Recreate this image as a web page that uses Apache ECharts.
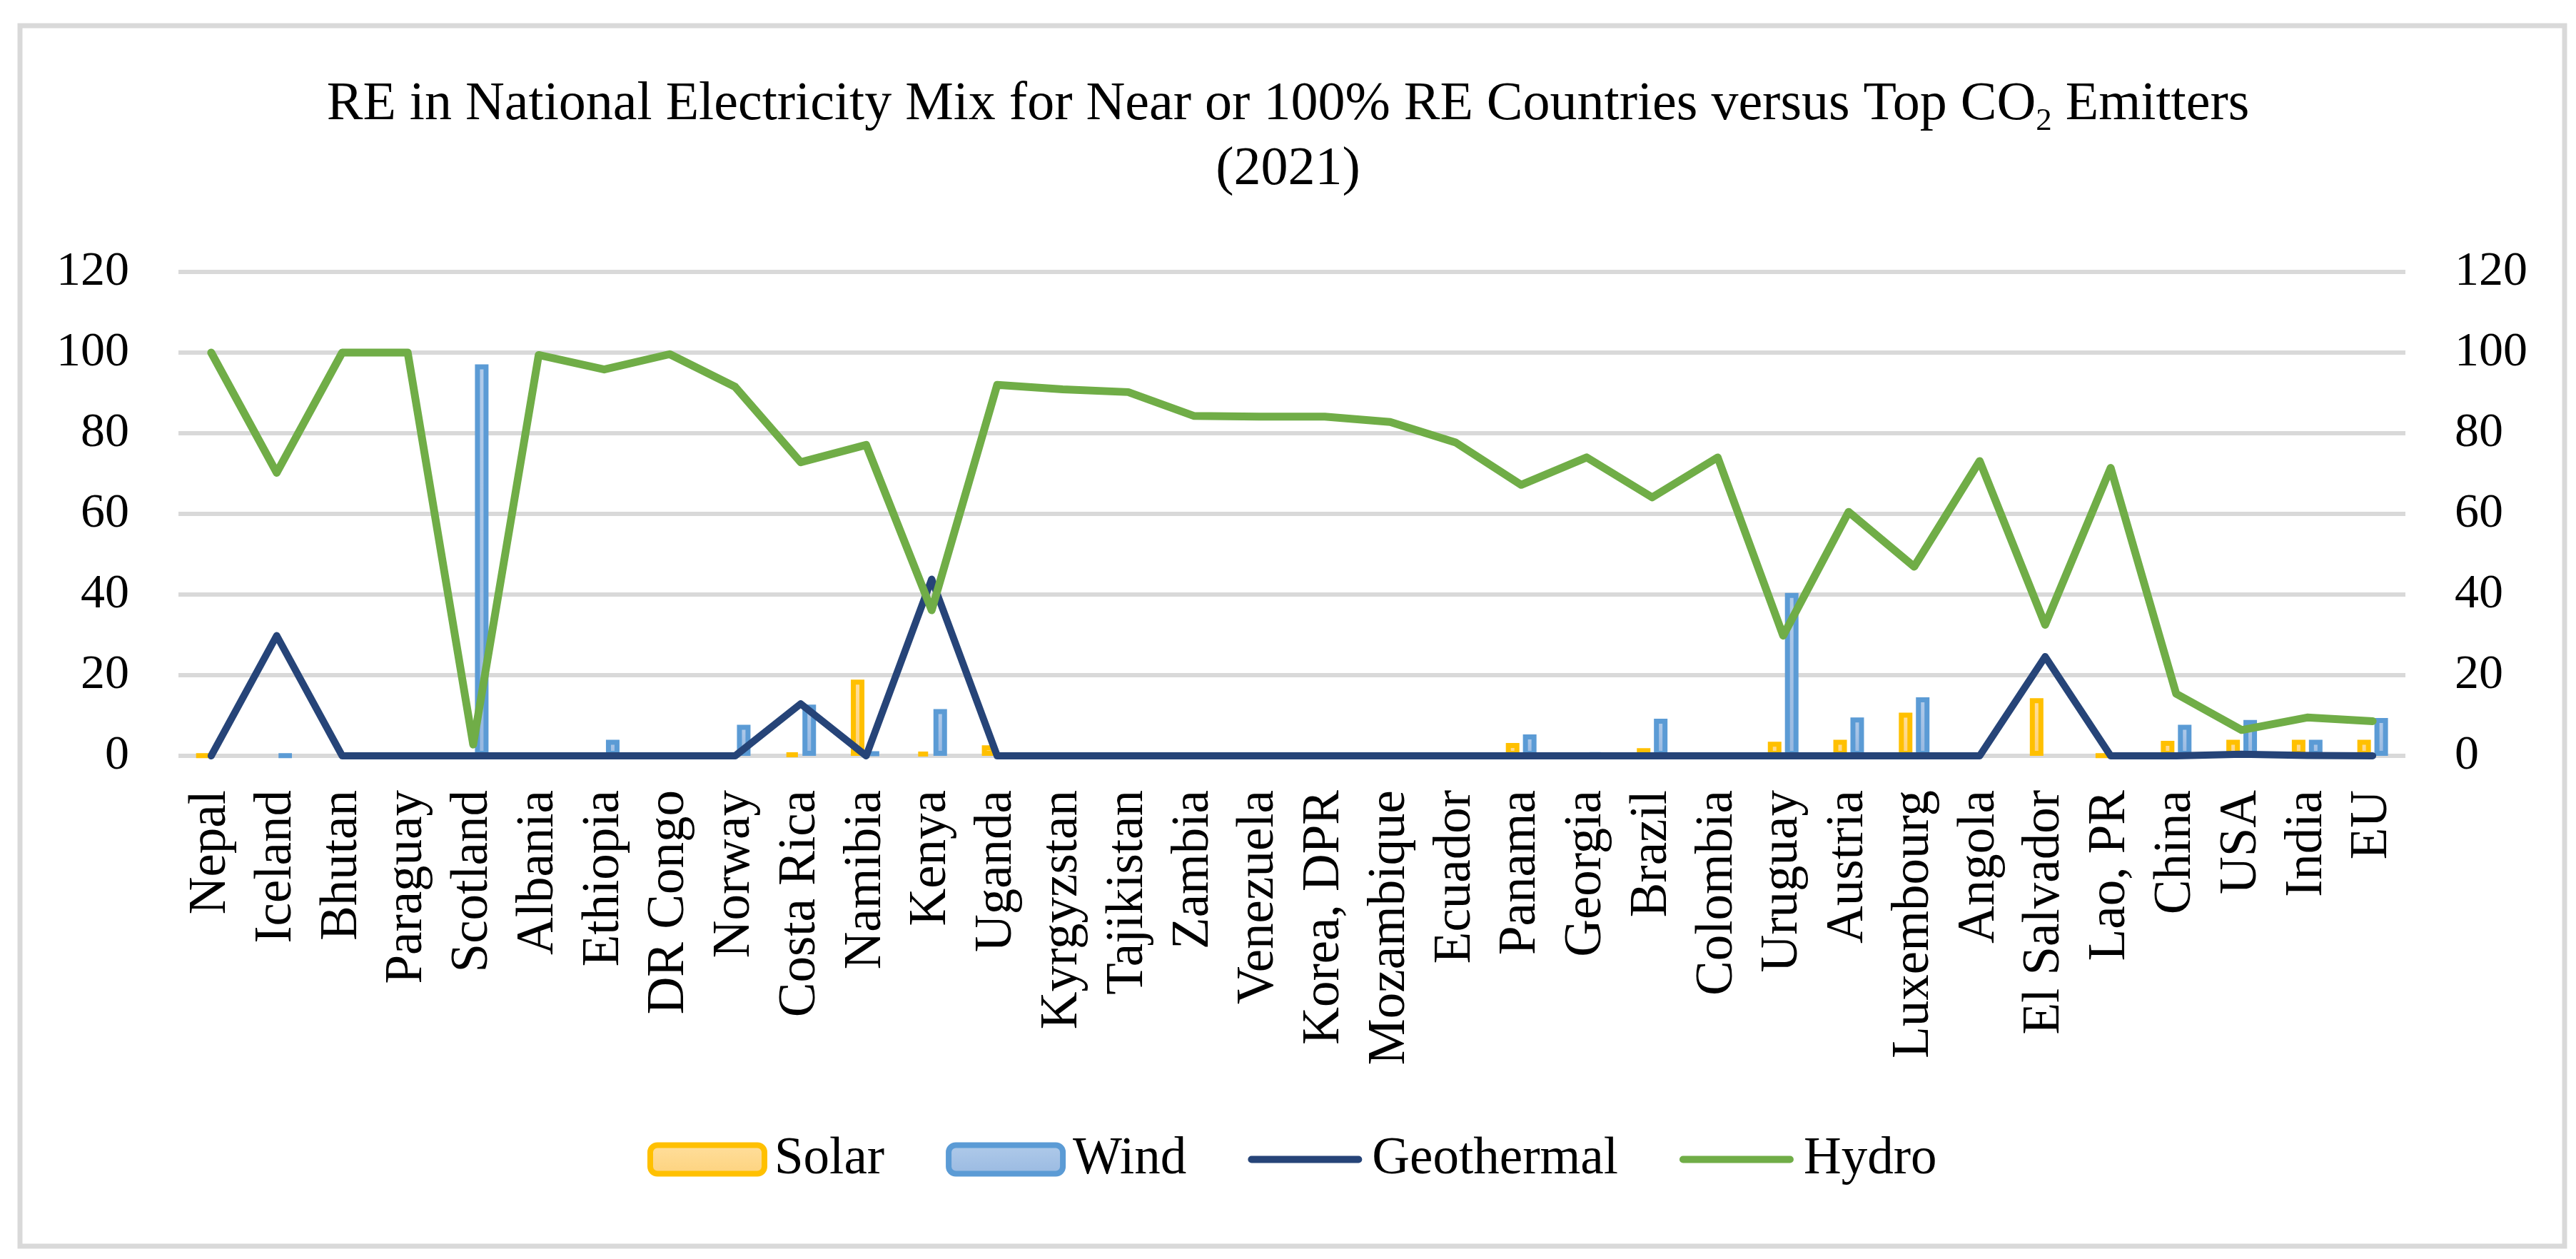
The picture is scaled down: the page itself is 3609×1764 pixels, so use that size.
<!DOCTYPE html>
<html>
<head>
<meta charset="utf-8">
<script src="https://cdn.jsdelivr.net/npm/echarts@6/dist/echarts.min.js"></script>
<style>
  html, body { margin: 0; padding: 0; background: #fff; }
  #chart { width: 3609px; height: 1764px; }
</style>
</head>
<body>
<div id="chart"></div>
<script>
// country order as in the original figure
const countries = ['Nepal', 'Iceland', 'Bhutan', 'Paraguay', 'Scotland', 'Albania', 'Ethiopia', 'DR Congo',
  'Norway', 'Costa Rica', 'Namibia', 'Kenya', 'Uganda', 'Kyrgyzstan', 'Tajikistan', 'Zambia', 'Venezuela',
  'Korea, DPR', 'Mozambique', 'Ecuador', 'Panama', 'Georgia', 'Brazil', 'Colombia', 'Uruguay', 'Austria',
  'Luxembourg', 'Angola', 'El Salvador', 'Lao, PR', 'China', 'USA', 'India', 'EU'];

// share of electricity (%)
const solar = [0.1, 0, 0, 0, 0, 0.3, 0, 0, 0, 0.5, 18.9, 0.9, 2.6, 0, 0, 0, 0,
  0, 0, 0, 3.2, 0, 1.9, 0, 3.5, 4.0, 10.7, 0, 14.3, 0.1, 3.7, 4.0, 4.0, 4.0];
const wind = [0, 0.05, 0, 0, 97.1, 0, 4.0, 0, 7.7, 12.7, 1.1, 11.6, 0, 0, 0, 0, 0,
  0, 0, 0, 5.3, 0.6, 9.2, 0, 40.4, 9.5, 14.5, 0, 0, 0, 7.7, 8.9, 4.0, 9.4];
const geothermal = [0, 29.8, 0, 0, 0, 0, 0, 0, 0, 12.9, 0, 43.8, 0, 0, 0, 0, 0,
  0, 0, 0, 0, 0, 0, 0, 0, 0, 0, 0, 24.6, 0, 0, 0.4, 0.1, 0];
const hydro = [100, 70.2, 100, 100, 2.8, 99.4, 95.8, 99.6, 91.5, 72.8, 77.1, 36.1, 92.0, 90.9, 90.2, 84.3, 84.1,
  84.1, 82.8, 77.7, 67.2, 74.0, 64.1, 74.0, 29.8, 60.5, 46.9, 73.1, 32.5, 71.4, 15.4, 6.4, 9.5, 8.6];

const yMin = 0, yMax = 120, yStep = 20;

const FONT = 'Liberation Serif';
const chart = echarts.init(document.getElementById('chart'));

// empty bars would otherwise leave a border stub on the baseline
const barData = arr => arr.map(v => (v === 0 ? '-' : v));

// legend swatch for the lines: a thick rounded stroke centred in a 160x40 box
const LINE_ICON = 'path://M0,0 L160,0 M5,15 L155,15 A5,5 0 0 1 155,25 L5,25 A5,5 0 0 1 5,15 Z M0,40 L160,40';

const valueAxis = (show) => ({
  type: 'value',
  min: yMin,
  max: yMax,
  interval: yStep,
  axisLine: {show: false},
  axisTick: {show: false},
  axisLabel: {color: '#000', fontFamily: FONT, fontSize: 68, margin: 69},
  splitLine: {show: show, lineStyle: {color: '#d9d9d9', width: 6}}
});

const option = {
  backgroundColor: '#fff',
  animation: false,
  graphic: [{
    type: 'rect',
    shape: {x: 28, y: 36, width: 3565, height: 1710},
    style: {fill: 'none', stroke: '#d9d9d9', lineWidth: 7},
    silent: true
  }],
  title: {
    left: 'center',
    top: 97,
    text: '{t|RE in National Electricity Mix for Near or 100% RE Countries versus Top CO}{s|2}{t| Emitters}\n{t|(2021)}',
    textStyle: {
      fontWeight: 'normal',
      rich: {
        t: {fontFamily: FONT, fontSize: 76, fontWeight: 'normal', color: '#000', lineHeight: 91},
        s: {fontFamily: FONT, fontSize: 45, fontWeight: 'normal', color: '#000', lineHeight: 44, verticalAlign: 'bottom'}
      }
    }
  },
  legend: {
    left: 902,
    top: 1583,
    itemWidth: 160,
    itemHeight: 40,
    itemGap: 86,
    itemStyle: {borderWidth: 8},
    textStyle: {fontFamily: FONT, fontSize: 73, color: '#000', padding: [0, 0, 0, 9]},
    data: [
      {name: 'Solar'},
      {name: 'Wind'},
      {name: 'Geothermal', icon: LINE_ICON, itemStyle: {borderWidth: 0, color: '#264478'}},
      {name: 'Hydro', icon: LINE_ICON, itemStyle: {borderWidth: 0, color: '#70ad47'}}
    ]
  },
  grid: {left: 250, right: 239, top: 381, bottom: 705},
  xAxis: {
    type: 'category',
    data: countries,
    axisLine: {show: false},
    axisTick: {show: false},
    axisLabel: {
      interval: 0,
      rotate: 90,
      margin: 48,
      color: '#000',
      fontFamily: FONT,
      fontSize: 73
    }
  },
  yAxis: [valueAxis(true), valueAxis(false)],
  series: [
    {
      name: 'Solar',
      type: 'bar',
      data: barData(solar),
      barWidth: 19,
      barGap: '26%',
      itemStyle: {
        color: new echarts.graphic.LinearGradient(0, 0, 0, 1, [
          {offset: 0, color: '#ffdf9e'},
          {offset: 1, color: '#fdd27c'}
        ]),
        borderColor: '#ffc000',
        borderWidth: 7
      }
    },
    {
      name: 'Wind',
      type: 'bar',
      data: barData(wind),
      barWidth: 19,
      itemStyle: {
        color: new echarts.graphic.LinearGradient(0, 0, 0, 1, [
          {offset: 0, color: '#b1cbea'},
          {offset: 1, color: '#98b9e1'}
        ]),
        borderColor: '#5b9bd5',
        borderWidth: 7
      }
    },
    {
      name: 'Geothermal',
      type: 'line',
      yAxisIndex: 1,
      data: geothermal,
      symbol: 'none',
      itemStyle: {color: '#264478'},
      lineStyle: {color: '#264478', width: 10, cap: 'round', join: 'round'}
    },
    {
      name: 'Hydro',
      type: 'line',
      yAxisIndex: 1,
      data: hydro,
      symbol: 'none',
      itemStyle: {color: '#70ad47'},
      lineStyle: {color: '#70ad47', width: 11, cap: 'round', join: 'round'}
    }
  ]
};

chart.setOption(option);
</script>
</body>
</html>
